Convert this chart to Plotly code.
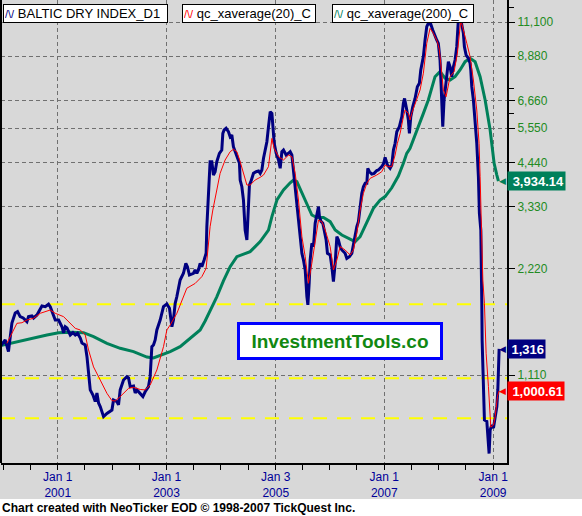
import numpy as np
import pandas as pd
import plotly.graph_objects as go

# ---------------- data ----------------
bdi_year = [1999.944, 2000.005, 2000.036, 2000.096, 2000.159, 2000.220, 2000.262, 2000.311, 2000.366, 2000.434,
            2000.464, 2000.526, 2000.556, 2000.618, 2000.679, 2000.710, 2000.771, 2000.831, 2000.862, 2000.923,
            2000.954, 2001.015, 2001.077, 2001.107, 2001.138, 2001.169, 2001.199, 2001.230, 2001.279, 2001.322,
            2001.364, 2001.414, 2001.445, 2001.505, 2001.537, 2001.566, 2001.597, 2001.647, 2001.689, 2001.720,
            2001.750, 2001.781, 2001.842, 2001.904, 2001.996, 2002.025, 2002.088, 2002.117, 2002.148, 2002.209,
            2002.271, 2002.301, 2002.332, 2002.393, 2002.424, 2002.455, 2002.516, 2002.565, 2002.607, 2002.668,
            2002.699, 2002.730, 2002.760, 2002.791, 2002.822, 2002.883, 2002.944, 2003.006, 2003.054, 2003.098,
            2003.127, 2003.159, 2003.190, 2003.250, 2003.311, 2003.355, 2003.384, 2003.421, 2003.495, 2003.526,
            2003.557, 2003.587, 2003.618, 2003.649, 2003.691, 2003.728, 2003.741, 2003.759, 2003.778, 2003.801,
            2003.833, 2003.862, 2003.893, 2003.924, 2003.972, 2004.016, 2004.035, 2004.059, 2004.095, 2004.138,
            2004.169, 2004.200, 2004.229, 2004.279, 2004.303, 2004.340, 2004.353, 2004.384, 2004.413, 2004.444,
            2004.476, 2004.494, 2004.523, 2004.549, 2004.597, 2004.646, 2004.689, 2004.720, 2004.751, 2004.781,
            2004.812, 2004.843, 2004.872, 2004.904, 2004.935, 2004.953, 2004.977, 2005.014, 2005.056, 2005.087,
            2005.118, 2005.148, 2005.197, 2005.240, 2005.271, 2005.302, 2005.331, 2005.363, 2005.394, 2005.423,
            2005.454, 2005.486, 2005.515, 2005.547, 2005.578, 2005.596, 2005.620, 2005.638, 2005.669, 2005.699,
            2005.730, 2005.761, 2005.791, 2005.809, 2005.840, 2005.871, 2005.895, 2005.932, 2005.956, 2006.006,
            2006.037, 2006.066, 2006.098, 2006.129, 2006.158, 2006.189, 2006.221, 2006.281, 2006.312, 2006.360,
            2006.404, 2006.434, 2006.465, 2006.496, 2006.525, 2006.557, 2006.588, 2006.617, 2006.649, 2006.680,
            2006.698, 2006.727, 2006.771, 2006.814, 2006.863, 2006.892, 2006.955, 2006.988, 2007.016, 2007.058,
            2007.108, 2007.139, 2007.169, 2007.200, 2007.231, 2007.279, 2007.323, 2007.352, 2007.374, 2007.415,
            2007.444, 2007.463, 2007.488, 2007.525, 2007.567, 2007.609, 2007.646, 2007.672, 2007.720, 2007.751,
            2007.782, 2007.811, 2007.855, 2007.892, 2007.934, 2007.965, 2007.995, 2008.026, 2008.045, 2008.063,
            2008.076, 2008.100, 2008.137, 2008.179, 2008.210, 2008.241, 2008.271, 2008.302, 2008.333, 2008.362,
            2008.385, 2008.405, 2008.425, 2008.454, 2008.473, 2008.504, 2008.546, 2008.577, 2008.590, 2008.608,
            2008.638, 2008.669, 2008.700, 2008.730, 2008.748, 2008.774, 2008.790, 2008.792, 2008.798, 2008.822,
            2008.840, 2008.884, 2008.902, 2008.926, 2008.945, 2008.976, 2009.006, 2009.037, 2009.068, 2009.086,
            2009.097, 2009.110]
bdi_value = [1335, 1380, 1395, 1293, 1558, 1664, 1678, 1624, 1610, 1572,
             1624, 1631, 1610, 1642, 1719, 1741, 1733, 1761, 1733, 1624,
             1589, 1589, 1521, 1460, 1521, 1508, 1473, 1441, 1463, 1441,
             1457, 1413, 1368, 1350, 1251, 1098, 1007, 974, 933, 987,
             925, 903, 846, 864, 883, 943, 933, 913, 1007, 1074,
             1098, 1089, 1029, 1033, 987, 1007, 985, 964, 995, 1029,
             1098, 1335, 1350, 1395, 1489, 1589, 1733, 1764, 1715, 1521,
             1589, 1772, 1852, 2063, 2155, 2299, 2250, 2131, 2155, 2202,
             2155, 2202, 2299, 2250, 2350, 2456, 2920, 3327, 4136, 4463,
             4463, 4091, 4181, 4463, 4713, 4816, 5369, 5487, 5549, 5427,
             5253, 5311, 4921, 4661, 4562, 4415, 3960, 3790, 3476, 2858,
             2678, 3187, 3833, 3917, 4136, 4181, 4200, 4136, 4227, 4562,
             4816, 5085, 5606, 6182, 6117, 5487, 5030, 4713, 4512, 4274,
             4762, 4816, 4661, 4713, 4762, 4661, 4227, 3875, 3476, 3051,
             2736, 2455, 2350, 2202, 1851, 1753, 2019, 2350, 2621, 2565,
             2986, 3187, 3327, 3118, 3018, 2986, 2858, 2678, 2455, 2428,
             2250, 2040, 2299, 2736, 2678, 2565, 2509, 2455, 2375, 2402,
             2455, 2621, 2736, 2920, 3018, 3327, 3630, 3790, 3875, 3875,
             4274, 4181, 4115, 4136, 4212, 4227, 4320, 4410, 4590, 4367,
             4274, 4367, 4816, 5030, 5427, 5610, 5975, 6530, 6740, 6252,
             5857, 5369, 5975, 6390, 6740, 7278, 7440, 8115, 8855, 9870,
             10770, 11010, 10960, 10535, 10086, 9870, 9655, 8662, 7440, 6252,
             5610, 6673, 7440, 8570, 8290, 7770, 8290, 8662, 9450, 11245,
             11790, 11370, 10770, 10310, 9450, 8949, 8760, 8475, 8115, 7280,
             6673, 5857, 5030, 4047, 3187, 2858, 2202, 1772, 1390, 1053,
             828, 820, 760, 665, 775, 801, 785, 846, 903, 1007,
             1307, 1316]

ema20_year = [2000.067, 2000.159, 2000.251, 2000.343, 2000.434, 2000.556, 2000.679, 2000.862, 2000.954, 2001.107,
              2001.230, 2001.322, 2001.414, 2001.505, 2001.566, 2001.658, 2001.781, 2001.904, 2001.996, 2002.056,
              2002.148, 2002.240, 2002.301, 2002.393, 2002.516, 2002.607, 2002.699, 2002.822, 2002.944, 2003.006,
              2003.067, 2003.190, 2003.311, 2003.373, 2003.526, 2003.649, 2003.728, 2003.770, 2003.801, 2003.851,
              2003.912, 2003.985, 2004.077, 2004.169, 2004.230, 2004.292, 2004.353, 2004.413, 2004.476, 2004.536,
              2004.628, 2004.720, 2004.781, 2004.872, 2004.935, 2004.977, 2005.056, 2005.148, 2005.240, 2005.302,
              2005.363, 2005.423, 2005.486, 2005.547, 2005.607, 2005.669, 2005.730, 2005.791, 2005.853, 2005.914,
              2006.006, 2006.066, 2006.129, 2006.189, 2006.281, 2006.373, 2006.434, 2006.496, 2006.557, 2006.617,
              2006.680, 2006.740, 2006.863, 2006.955, 2007.016, 2007.077, 2007.139, 2007.200, 2007.242, 2007.292,
              2007.352, 2007.383, 2007.444, 2007.475, 2007.506, 2007.567, 2007.659, 2007.720, 2007.782, 2007.843,
              2007.904, 2007.977, 2008.014, 2008.058, 2008.087, 2008.137, 2008.210, 2008.284, 2008.344, 2008.407,
              2008.454, 2008.517, 2008.577, 2008.638, 2008.700, 2008.742, 2008.761, 2008.792, 2008.811, 2008.840,
              2008.871, 2008.914, 2008.945, 2008.957, 2009.006, 2009.037, 2009.079, 2009.097, 2009.110]
ema20_value = [1365, 1460, 1555, 1561, 1589, 1607, 1660, 1696, 1660, 1624,
               1555, 1505, 1489, 1441, 1307, 1170, 1074, 985, 939, 937,
               964, 995, 1017, 1024, 1010, 1007, 1040, 1147, 1335, 1489,
               1538, 1660, 1851, 1955, 2017, 2108, 2225, 2621, 2920, 3256,
               3630, 4136, 4512, 4762, 4840, 4762, 4463, 4136, 3833, 3833,
               3960, 4030, 4091, 4320, 5195, 4870, 4611, 4512, 4661, 4611,
               4136, 3476, 2736, 2402, 2019, 2299, 2678, 3051, 3018, 2858,
               2565, 2202, 2350, 2565, 2509, 2428, 2509, 2797, 3256, 3630,
               3875, 4003, 4091, 4181, 4367, 4320, 4320, 4661, 5030, 5369,
               5975, 6252, 6117, 5857, 6117, 6530, 7123, 7950, 9660, 10650,
               10310, 9760, 9246, 7950, 7123, 6818, 7770, 8030, 9050, 11245,
               10450, 9660, 8855, 7603, 6252, 5030, 4047, 2858, 2063, 1772,
               1279, 1029, 828, 790, 801, 846, 964, 1000, 1000.61]

ema200_year = [1999.944, 2000.128, 2000.311, 2000.556, 2000.802, 2001.015, 2001.230, 2001.474, 2001.658, 2001.904,
               2002.148, 2002.393, 2002.639, 2002.760, 2002.883, 2003.067, 2003.250, 2003.434, 2003.618, 2003.710,
               2003.801, 2003.924, 2004.046, 2004.169, 2004.292, 2004.444, 2004.536, 2004.628, 2004.720, 2004.872,
               2004.935, 2005.027, 2005.148, 2005.271, 2005.332, 2005.394, 2005.486, 2005.578, 2005.669, 2005.761,
               2005.883, 2006.006, 2006.098, 2006.221, 2006.373, 2006.465, 2006.557, 2006.709, 2006.801, 2006.924,
               2007.016, 2007.139, 2007.260, 2007.352, 2007.414, 2007.475, 2007.536, 2007.628, 2007.720, 2007.811,
               2007.860, 2007.934, 2008.026, 2008.118, 2008.210, 2008.302, 2008.393, 2008.486, 2008.577, 2008.669,
               2008.761, 2008.853, 2008.945, 2008.982, 2009.018, 2009.068, 2009.097]
ema200_value = [1344, 1365, 1386, 1410, 1441, 1463, 1467, 1463, 1425, 1365,
                1321, 1293, 1248, 1240, 1259, 1293, 1335, 1410, 1489, 1579,
                1685, 1848, 2050, 2250, 2402, 2455, 2482, 2565, 2650, 2858,
                3120, 3476, 3710, 3890, 3960, 3917, 3630, 3364, 3152, 3100,
                3100, 3018, 2858, 2766, 2690, 2650, 2736, 3051, 3291, 3476,
                3554, 3764, 4063, 4415, 4713, 4870, 5141, 5610, 6117, 6673,
                7123, 7770, 8030, 7690, 7603, 7770, 8115, 8570, 8760, 8570,
                7770, 6673, 5487, 4816, 4415, 4091, 3934.14]

level_lines = [1760, 1086, 837]

price_ticks = [1110, 2220, 3330, 4440, 5550, 6660, 8880, 11100]
price_tick_text = ["1,110", "2,220", "3,330", "4,440", "5,550", "6,660", "8,880", "11,100"]
price_minor_ticks = [6105, 7215, 12210]

date_ticks = ["2001-01-01", "2003-01-01", "2005-01-03", "2007-01-01", "2009-01-01"]
date_tick_text = ["Jan 1<br>2001", "Jan 1<br>2003", "Jan 3<br>2005", "Jan 1<br>2007", "Jan 1<br>2009"]
x_range = ["1999-12-17", "2009-04-04"]

series_names = ["BALTIC DRY INDEX_D1", "qc_xaverage(20)_C", "qc_xaverage(200)_C"]
series_colors = ["#000080", "#FF0000", "#00805A"]
last_labels = [("1,316", 1316, "#000080"), ("1,000.61", 1000.61, "#FF0000"), ("3,934.14", 3934.14, "#00805A")]


def to_dates(years):
    out = []
    for d in years:
        y = int(d)
        start = pd.Timestamp(year=y, month=1, day=1)
        end = pd.Timestamp(year=y + 1, month=1, day=1)
        out.append(start + (end - start) * (d - y))
    return out


FONT = "Arial, Liberation Sans, sans-serif"
GREY = "#D8D8D8"
GRID = "#707070"
Y_RANGE = [2.79603, 4.10764]

fig = go.Figure()
# yellow reference levels
for v in level_lines:
    fig.add_trace(go.Scatter(x=x_range, y=[v, v], mode="lines", hoverinfo="skip",
                             line=dict(color="#FFFF00", width=2, dash="14px,10px")))
fig.add_trace(go.Scatter(x=to_dates(ema200_year), y=ema200_value, mode="lines",
                         line=dict(color=series_colors[2], width=3), name=series_names[2]))
fig.add_trace(go.Scatter(x=to_dates(bdi_year), y=bdi_value, mode="lines",
                         line=dict(color=series_colors[0], width=3), name=series_names[0]))
fig.add_trace(go.Scatter(x=to_dates(ema20_year), y=ema20_value, mode="lines",
                         line=dict(color=series_colors[1], width=1), name=series_names[1]))
# empty trace that carries the unlabeled minor price ticks
fig.add_trace(go.Scatter(x=[], y=[], yaxis="y2", hoverinfo="skip"))

shapes = []
# left border
shapes.append(dict(type="line", xref="paper", x0=0, x1=0, yref="paper", y0=0, y1=1,
                   line=dict(color="black", width=2)))
# white footer strip (outside the plot area)
shapes.append(dict(type="rect", xref="paper", x0=-0.05, x1=1.2, yref="paper", y0=-0.2, y1=(463 - 499) / 463,
                   fillcolor="white", line=dict(width=0), layer="above"))

annotations = []
# legend boxes
legend_boxes = [(2, 161), (181, 130), (331, 138)]
for (xs, w), name, col in zip(legend_boxes, series_names, series_colors):
    annotations.append(dict(
        xref="paper", yref="paper", x=0, y=1, xanchor="left", yanchor="top", xshift=xs, yshift=-4,
        text=f"<span style='color:{col};font-size:11px'>/\\/</span> {name}",
        showarrow=False, align="left", width=w, height=15,
        bgcolor="white", bordercolor="black", borderwidth=1, borderpad=1,
        font=dict(family=FONT, size=13, color="black")))

# watermark
annotations.append(dict(
    xref="paper", yref="paper", x=0, y=1, xanchor="center", yanchor="middle", xshift=339, yshift=-341,
    text="<b>InvestmentTools.co</b>", showarrow=False, width=200, height=32,
    bgcolor="white", bordercolor="#0000FF", borderwidth=3, borderpad=0,
    font=dict(family=FONT, size=19, color="#118811")))

# last-value tags
tag_widths = {"1,316": 35, "1,000.61": 54, "3,934.14": 55}
for txt, val, col in last_labels:
    annotations.append(dict(
        xref="paper", yref="y", x=1, y=np.log10(val), xanchor="left", yanchor="middle", xshift=0,
        text=f"<b>{txt}</b>", showarrow=False, align="right", width=tag_widths[txt], height=16,
        bgcolor=col, borderpad=1, font=dict(family=FONT, size=13, color="white")))
    annotations.append(dict(
        xref="paper", yref="y", x=1, y=np.log10(val), xanchor="right", yanchor="middle", xshift=1,
        text="◀", showarrow=False, font=dict(family="DejaVu Sans", size=9, color=col)))

# footer
annotations.append(dict(
    xref="paper", yref="paper", x=0, y=0, xanchor="left", yanchor="middle", xshift=-1, yshift=-(508 - 463),
    text="<b>Chart created with NeoTicker EOD © 1998-2007 TickQuest Inc.</b>", showarrow=False,
    font=dict(family=FONT, size=12, color="black")))

fig.update_layout(
    width=582, height=516,
    margin=dict(l=1, r=75, t=0, b=53, pad=0),
    paper_bgcolor=GREY, plot_bgcolor=GREY,
    showlegend=False,
    shapes=shapes, annotations=annotations,
    xaxis=dict(type="date", range=x_range,
               tickmode="array", tickvals=date_ticks, ticktext=date_tick_text,
               ticks="outside", ticklen=5, tickwidth=1, tickcolor="black",
               showline=True, linecolor="black", linewidth=2,
               showgrid=True, gridcolor=GRID, gridwidth=1, griddash="4px,3px",
               zeroline=False, automargin=False, ticklabelstandoff=-3,
               tickfont=dict(family=FONT, size=12, color="#000099"),
               minor=dict(tickmode="linear", tick0="2000-01-01", dtick="M6", ticks="outside",
                          ticklen=5, tickwidth=1, tickcolor="black")),
    yaxis=dict(type="log", side="right", range=Y_RANGE,
               tickmode="array", tickvals=price_ticks, ticktext=price_tick_text,
               ticks="outside", ticklen=6, tickwidth=1, tickcolor="black",
               showline=True, linecolor="black", linewidth=2,
               showgrid=True, gridcolor=GRID, gridwidth=1, griddash="4px,3px",
               zeroline=False, automargin=False,
               tickfont=dict(family=FONT, size=12, color="#228B22")),
    yaxis2=dict(type="log", side="right", overlaying="y", range=Y_RANGE,
                tickmode="array", tickvals=price_minor_ticks, ticktext=["", "", ""],
                ticks="outside", ticklen=6, tickwidth=1, tickcolor="black",
                showline=False, showgrid=False, zeroline=False, automargin=False),
)

fig.write_html("out.html", config={"displayModeBar": False},
               post_script="document.body.style.margin='0';document.body.style.padding='0';")
